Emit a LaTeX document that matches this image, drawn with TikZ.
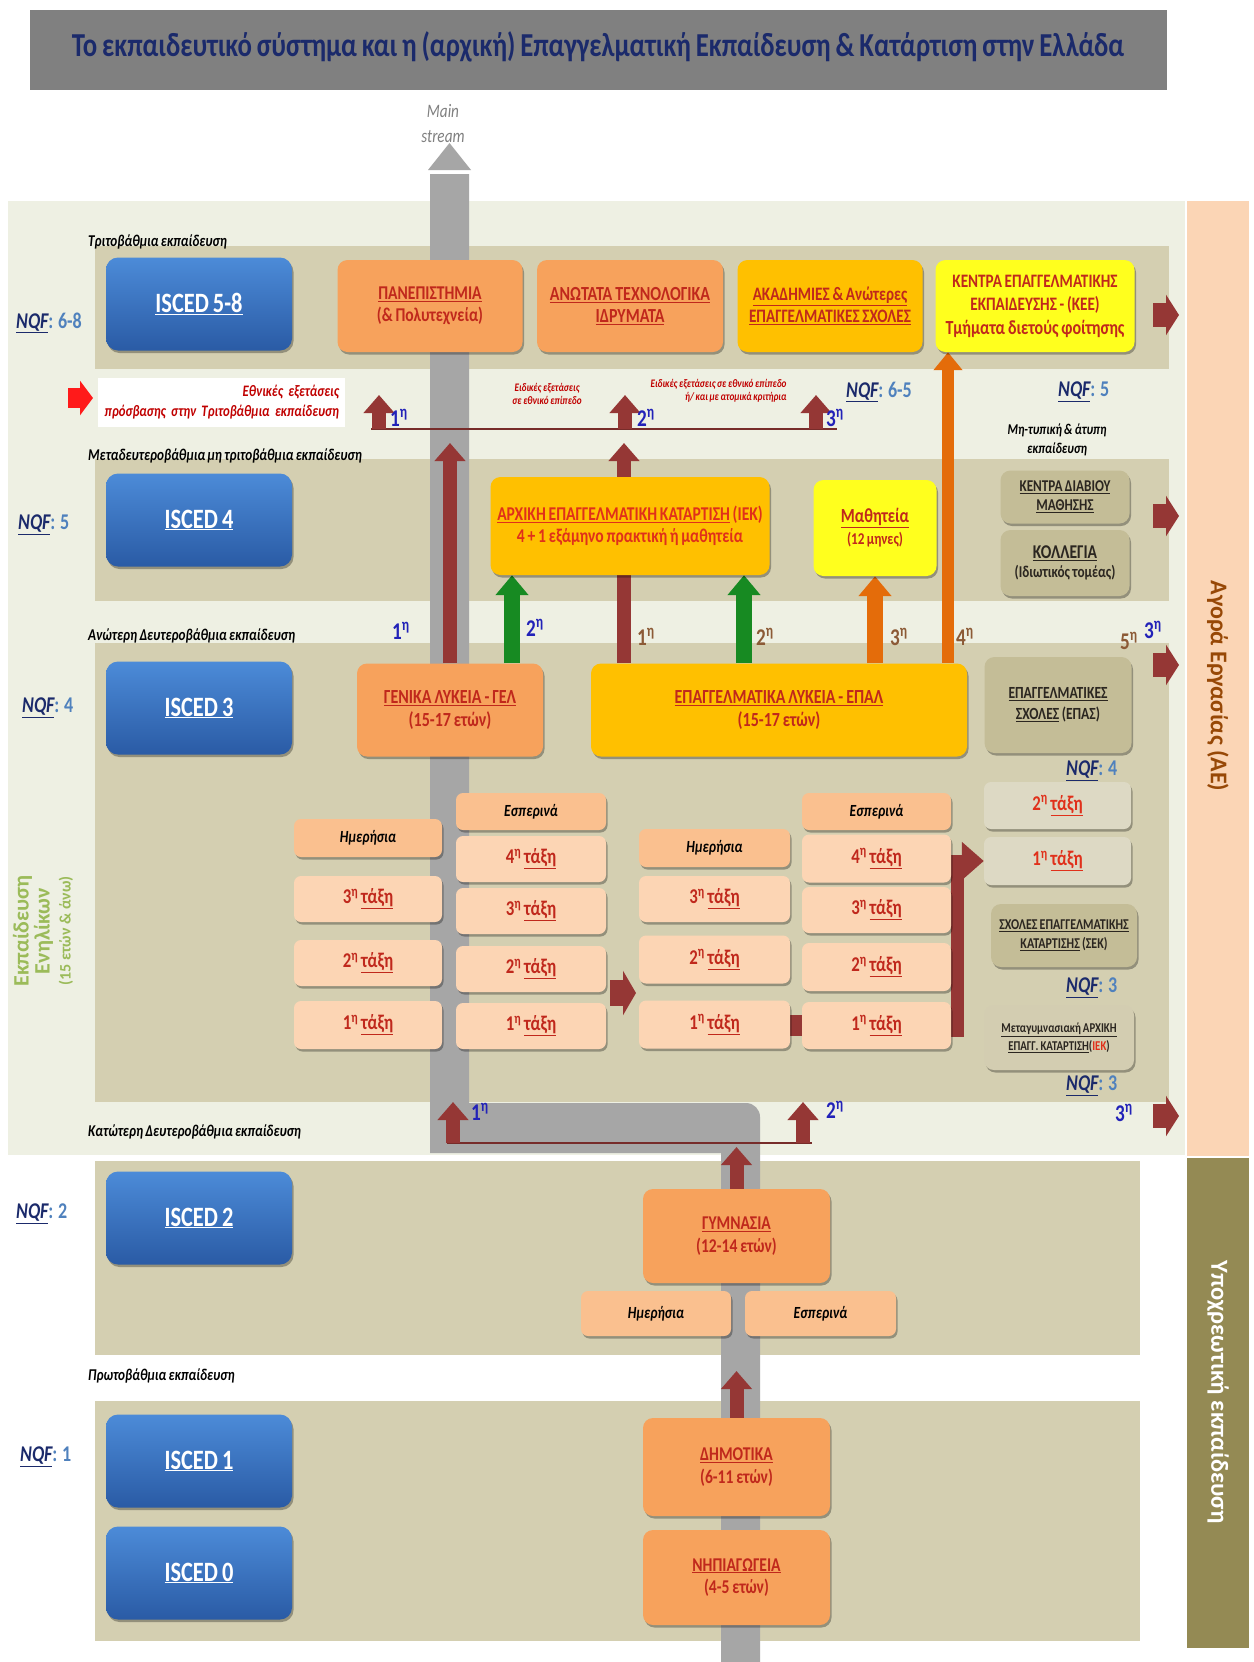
\documentclass[tikz,border=0pt]{standalone}
\usepackage{fontspec}
\setmainfont{Carlito}[FakeStretch=0.8,WordSpace=0.8]
\newfontfamily\plainfont{Carlito}
\usetikzlibrary{arrows.meta,shadows,calc}
\pgfdeclarelayer{bg}
\pgfdeclarelayer{strm}
\pgfdeclarelayer{arw}
\pgfsetlayers{bg,strm,arw,main}
\definecolor{titlegray}{HTML}{808080}
\definecolor{navy}{HTML}{1B2A6B}
\definecolor{panel}{HTML}{EEF0E3}
\definecolor{band}{HTML}{D4CFB1}
\definecolor{aecol}{HTML}{FBD5B5}
\definecolor{olivecol}{HTML}{948A54}
\definecolor{streamgray}{HTML}{A6A6A6}
\definecolor{iscedtop}{HTML}{4C8BD8}
\definecolor{iscedbot}{HTML}{2A5BA5}
\definecolor{orangebox}{HTML}{F7A25C}
\definecolor{goldbox}{HTML}{FFC000}
\definecolor{yellowbox}{HTML}{FFFF1E}
\definecolor{tandark}{HTML}{C4BD97}
\definecolor{tanlight}{HTML}{DDD9C4}
\definecolor{peach}{HTML}{FCD5B4}
\definecolor{peachdark}{HTML}{FAC08F}
\definecolor{boxred}{HTML}{C0281C}
\definecolor{iekred}{HTML}{E0301A}
\definecolor{darktext}{HTML}{2B2620}
\definecolor{darkred}{HTML}{953735}
\definecolor{brightred}{HTML}{FF1A1A}
\definecolor{greenarr}{HTML}{178A22}
\definecolor{orangearr}{HTML}{E46C0A}
\definecolor{nqfblue}{HTML}{4F81BD}
\definecolor{ordblue}{HTML}{2222B8}
\definecolor{ordbrown}{HTML}{8C5A36}
\definecolor{adultgreen}{HTML}{9BBB59}
\definecolor{aetext}{HTML}{974806}
\definecolor{examred}{HTML}{C00000}
\newcommand\nqf[1]{{\color{navy}\textit{\underline{NQF}}}{\color{nqfblue}: #1}}
\newcommand\ordl[1]{#1\textsuperscript{η}}
\newcommand\taxi[1]{#1\textsuperscript{η} \underline{τάξη}}
\begin{document}
\begin{tikzpicture}[x=1pt,y=-1pt,
  shd/.style={drop shadow={shadow xshift=1.5pt,shadow yshift=-2.5pt,opacity=0.3,fill=black}},
  isced/.style={shd,rounded corners=12,minimum width=186,minimum height=93,top color=iscedtop,bottom color=iscedbot,text=white,font=\fontsize{28}{30}\selectfont\bfseries},
  bx/.style={shd,rounded corners=10,align=center,inner sep=2pt,font=\fontsize{19.5}{22.5}\selectfont\bfseries,text=boxred},
  obox/.style={bx,fill=orangebox},
  gbox/.style={bx,fill=goldbox},
  ybox/.style={bx,fill=yellowbox},
  tdbox/.style={bx,fill=tandark,text=darktext,font=\fontsize{16.5}{19}\selectfont\bfseries},
  tlbox/.style={bx,rounded corners=7,fill=tanlight,font=\fontsize{21}{23}\selectfont\bfseries,text=iekred},
  cls/.style={bx,rounded corners=7,fill=peach,font=\fontsize{21}{23}\selectfont\bfseries},
  hdr/.style={bx,rounded corners=7,fill=peachdark,text=black,font=\fontsize{17}{19}\selectfont\bfseries\itshape},
  bandlbl/.style={anchor=west,font=\fontsize{16.5}{18}\selectfont\bfseries\itshape,inner sep=0},
  nqflbl/.style={anchor=west,font=\fontsize{22.5}{24}\selectfont\bfseries,inner sep=0},
  ordb/.style={font=\fontsize{24}{26}\selectfont\bfseries,text=ordblue,inner sep=0},
  ordr/.style={font=\fontsize{24}{26}\selectfont\bfseries,text=ordbrown,inner sep=0},
  fatred/.style={draw=darkred,line width=14,-{Triangle[width=30pt,length=18pt]}},
  fatgreen/.style={draw=greenarr,line width=16,-{Triangle[width=32pt,length=20pt]}},
  fatorange/.style={draw=orangearr,line width=16,-{Triangle[width=32pt,length=20pt]}},
  thinorange/.style={draw=orangearr,line width=12,-{Triangle[width=28pt,length=18pt]}},
  blockright/.style={draw=darkred,line width=24,-{Triangle[width=40pt,length=13pt]}},
  hline/.style={draw=darkred!80!black,line width=1.6},
]
\useasboundingbox (0,0) rectangle (1253,1662);
\begin{pgfonlayer}{bg}
\fill[white] (0,0) rectangle (1253,1662);
\fill[titlegray] (30,10) rectangle (1167,90);
\fill[panel] (8,201) rectangle (1185,1155);
\fill[aecol] (1187,201) rectangle (1249,1156);
\fill[olivecol] (1187,1158) rectangle (1249,1648);
\fill[band] (95,246) rectangle (1169,369);
\fill[band] (95,459) rectangle (1169,601);
\fill[band] (95,643) rectangle (1169,1102);
\fill[band] (95,1161) rectangle (1140,1355);
\fill[band] (95,1401) rectangle (1140,1641);
\end{pgfonlayer}
\begin{pgfonlayer}{strm}
\fill[streamgray] (428,170) -- (471,170) -- (449.5,143) -- cycle;
\fill[streamgray] (430,174) -- (469,174) -- (469,1103) -- (740,1103) [rounded corners=14] -- (760,1103) -- (760,1140) [sharp corners] -- (760,1662) -- (721,1662) -- (721,1153) -- (430,1153) -- cycle;
\end{pgfonlayer}
% title
\node[font=\fontsize{33.5}{36}\selectfont\bfseries,text=navy] (title) at (598,47) {Το εκπαιδευτικό σύστημα και η (αρχική) Επαγγελματική Εκπαίδευση \& Κατάρτιση στην Ελλάδα};
\node[font=\fontsize{19}{25}\selectfont\itshape,text=gray,align=center] (ms) at (443,124) {Main\\stream};
% band labels
\node[bandlbl] (l1) at (88,242) {Τριτοβάθμια εκπαίδευση};
\node[bandlbl] (l2) at (88,456) {Μεταδευτεροβάθμια μη τριτοβάθμια εκπαίδευση};
\node[bandlbl] (l3) at (88,636) {Ανώτερη Δευτεροβάθμια εκπαίδευση};
\node[bandlbl] (l4) at (88,1132) {Κατώτερη Δευτεροβάθμια εκπαίδευση};
\node[bandlbl] (l5) at (88,1376) {Πρωτοβάθμια εκπαίδευση};
% NQF
\node[nqflbl] (nqf68) at (16,323) {\nqf{6-8}};
\node[nqflbl] (nqf65) at (846,392) {\nqf{6-5}};
\node[nqflbl] (nqf5a) at (1058,392) {\nqf{5}};
\node[nqflbl] (nqf5b) at (18,525) {\nqf{5}};
\node[nqflbl] (nqf4a) at (22,708) {\nqf{4}};
\node[nqflbl] (nqf4b) at (1066,771) {\nqf{4}};
\node[nqflbl] (nqf3a) at (1066,988) {\nqf{3}};
\node[nqflbl] (nqf3b) at (1066,1086) {\nqf{3}};
\node[nqflbl] (nqf2) at (16,1214) {\nqf{2}};
\node[nqflbl] (nqf1) at (20,1457) {\nqf{1}};
% ISCED boxes
\node[isced] (i58) at (199,304) {\underline{ISCED 5-8}};
\node[isced] (i4) at (199,520) {\underline{ISCED 4}};
\node[isced] (i3) at (199,708) {\underline{ISCED 3}};
\node[isced] (i2) at (199,1218) {\underline{ISCED 2}};
\node[isced] (i1) at (199,1461) {\underline{ISCED 1}};
\node[isced] (i0) at (199,1573) {\underline{ISCED 0}};
% tertiary
\node[obox,minimum width=185,minimum height=92] (pan) at (430,306) {\underline{ΠΑΝΕΠΙΣΤΗΜΙΑ}\\(\& Πολυτεχνεία)};
\node[obox,minimum width=186,minimum height=92,font=\fontsize{20}{22.5}\selectfont\bfseries] (ate) at (630,306) {\underline{ΑΝΩΤΑΤΑ ΤΕΧΝΟΛΟΓΙΚΑ}\\\underline{ΙΔΡΥΜΑΤΑ}};
\node[gbox,minimum width=185,minimum height=92,font=\fontsize{19}{22.5}\selectfont\bfseries] (akad) at (830,306) {\underline{ΑΚΑΔΗΜΙΕΣ \& Ανώτερες}\\\underline{ΕΠΑΓΓΕΛΜΑΤΙΚΕΣ ΣΧΟΛΕΣ}};
\node[ybox,minimum width=199,minimum height=92,font=\fontsize{19}{23.5}\selectfont\bfseries] (kee) at (1035,306) {ΚΕΝΤΡΑ ΕΠΑΓΓΕΛΜΑΤΙΚΗΣ\\ΕΚΠΑΙΔΕΥΣΗΣ - (ΚΕΕ)\\{\fontsize{20}{23.5}\selectfont Τμήματα διετούς φοίτησης}};
% exam row
\node[fill=white,text width=235,inner xsep=6,minimum height=49,align=right,text=examred,font=\fontsize{16}{20}\selectfont\bfseries\itshape] (exam) at (221.5,402.5) {Εθνικές εξετάσεις\\πρόσβασης στην Τριτοβάθμια εκπαίδευση};
\node[font=\fontsize{11.5}{13}\selectfont\bfseries\itshape,text=examred,align=center] (sp1) at (547,394) {Ειδικές εξετάσεις\\σε εθνικό επίπεδο};
\node[font=\fontsize{11.5}{13}\selectfont\bfseries\itshape,text=examred,align=right,anchor=east] (sp2) at (790,391) {Ειδικές εξετάσεις σε εθνικό επίπεδο\\ή/ και με ατομικά κριτήρια};
\node[font=\fontsize{15}{19}\selectfont\bfseries\itshape,align=center] (mt) at (1057,440) {Μη-τυπική \& άτυπη\\εκπαίδευση};
% ISCED 4 row
\node[gbox,minimum width=279,minimum height=98,text=iekred,font=\fontsize{19.5}{22}\selectfont\bfseries] (iek) at (630,526) {\underline{ΑΡΧΙΚΗ ΕΠΑΓΓΕΛΜΑΤΙΚΗ ΚΑΤΑΡΤΙΣΗ} (ΙΕΚ)\\4 + 1 εξάμηνο πρακτική ή μαθητεία};
\node[ybox,minimum width=123,minimum height=96,font=\fontsize{20}{22}\selectfont\bfseries] (math) at (875,528) {\underline{Μαθητεία}\\{\fontsize{16.5}{19}\selectfont(12 μηνες)}};
\node[tdbox,minimum width=129,minimum height=53] (kdvm) at (1065,497) {\underline{ΚΕΝΤΡΑ ΔΙΑΒΙΟΥ}\\\underline{ΜΑΘΗΣΗΣ}};
\node[tdbox,minimum width=129,minimum height=66] (koll) at (1065,563) {{\fontsize{19.5}{21}\selectfont\underline{ΚΟΛΛΕΓΙΑ}}\\(Ιδιωτικός τομέας)};
% ISCED 3 row
\node[obox,minimum width=186,minimum height=93,font=\fontsize{20}{22.5}\selectfont\bfseries] (gel) at (450,710) {\underline{ΓΕΝΙΚΑ ΛΥΚΕΙΑ - ΓΕΛ}\\(15-17 ετών)};
\node[gbox,minimum width=376,minimum height=93,font=\fontsize{20}{22.5}\selectfont\bfseries] (epal) at (779,710) {\underline{ΕΠΑΓΓΕΛΜΑΤΙΚΑ ΛΥΚΕΙΑ - ΕΠΑΛ}\\(15-17 ετών)};
\node[tdbox,minimum width=147,minimum height=96,font=\fontsize{17}{21}\selectfont\bfseries] (epas) at (1058,705) {\underline{ΕΠΑΓΓΕΛΜΑΤΙΚΕΣ}\\\underline{ΣΧΟΛΕΣ} (ΕΠΑΣ)};
% GEL grid
\node[hdr,minimum width=148,minimum height=38] (gdh) at (368,838) {Ημερήσια};
\node[cls,minimum width=148,minimum height=46] (gd3) at (368,899) {\taxi{3}};
\node[cls,minimum width=148,minimum height=46] (gd2) at (368,963) {\taxi{2}};
\node[cls,minimum width=148,minimum height=48] (gd1) at (368,1025) {\taxi{1}};
\node[hdr,minimum width=150,minimum height=37] (geh) at (531,811.5) {Εσπερινά};
\node[cls,minimum width=150,minimum height=46] (ge4) at (531,859) {\taxi{4}};
\node[cls,minimum width=150,minimum height=46] (ge3) at (531,911) {\taxi{3}};
\node[cls,minimum width=150,minimum height=46] (ge2) at (531,969) {\taxi{2}};
\node[cls,minimum width=150,minimum height=46] (ge1) at (531,1026) {\taxi{1}};
% EPAL grid
\node[hdr,minimum width=151,minimum height=38] (edh) at (714.5,848) {Ημερήσια};
\node[cls,minimum width=151,minimum height=46] (ed3) at (714.5,899) {\taxi{3}};
\node[cls,minimum width=151,minimum height=48] (ed2) at (714.5,959.5) {\taxi{2}};
\node[cls,minimum width=151,minimum height=48] (ed1) at (714.5,1024.5) {\taxi{1}};
\node[hdr,minimum width=149,minimum height=37] (eeh) at (876.5,811.5) {Εσπερινά};
\node[cls,minimum width=149,minimum height=48] (ee4) at (876.5,858.5) {\taxi{4}};
\node[cls,minimum width=149,minimum height=46] (ee3) at (876.5,910) {\taxi{3}};
\node[cls,minimum width=149,minimum height=48] (ee2) at (876.5,967) {\taxi{2}};
\node[cls,minimum width=149,minimum height=47] (ee1) at (876.5,1025.5) {\taxi{1}};
% right column
\node[tlbox,minimum width=147,minimum height=47] (r2) at (1057.5,805.5) {\taxi{2}};
\node[tlbox,minimum width=147,minimum height=48] (r1) at (1057.5,861) {\taxi{1}};
\node[tdbox,minimum width=146,minimum height=63,font=\fontsize{15}{19}\selectfont\bfseries] (sek) at (1064,935.5) {\underline{ΣΧΟΛΕΣ ΕΠΑΓΓΕΛΜΑΤΙΚΗΣ}\\\underline{ΚΑΤΑΡΤΙΣΗΣ} (ΣΕΚ)};
\node[tdbox,fill=tandark!75!white,minimum width=150,minimum height=65,font=\fontsize{13.5}{18}\selectfont\bfseries] (ek) at (1059,1037.5) {\underline{Μεταγυμνασιακή ΑΡΧΙΚΗ}\\\underline{ΕΠΑΓΓ. ΚΑΤΑΡΤΙΣΗ}({\color{iekred}ΙΕΚ})};
% lower secondary & primary
\node[obox,minimum width=187,minimum height=94] (gym) at (736.5,1236) {\underline{ΓΥΜΝΑΣΙΑ}\\(12-14 ετών)};
\node[hdr,minimum width=150,minimum height=45] (gyd) at (656,1313.5) {Ημερήσια};
\node[hdr,minimum width=151,minimum height=45] (gye) at (820.5,1313.5) {Εσπερινά};
\node[obox,minimum width=187,minimum height=98] (dim) at (736.5,1467) {\underline{ΔΗΜΟΤΙΚΑ}\\(6-11 ετών)};
\node[obox,minimum width=187,minimum height=95] (nip) at (736.5,1577.5) {\underline{ΝΗΠΙΑΓΩΓΕΙΑ}\\(4-5 ετών)};
% side texts
\node[rotate=90,align=center,text=adultgreen,font=\plainfont\fontsize{22}{21}\selectfont\bfseries] (adult) at (43,931) {Εκπαίδευση\\Ενηλίκων\\{\fontsize{16}{19}\selectfont(15 ετών \& άνω)}};
\node[rotate=-90,text=aetext,font=\plainfont\fontsize{24}{26}\selectfont\bfseries] (aetxt) at (1218,686) {Αγορά Εργασίας (ΑΕ)};
\node[rotate=-90,text=white,font=\plainfont\fontsize{24.5}{26}\selectfont\bfseries] (ypo) at (1218,1392) {Υποχρεωτική εκπαίδευση};
% ordinal labels
\node[ordb] (o1) at (399,418) {\ordl{1}};
\node[ordb] (o2) at (646,418) {\ordl{2}};
\node[ordb] (o3) at (835,418) {\ordl{3}};
\node[ordb] (o4) at (401,631) {\ordl{1}};
\node[ordb] (o5) at (535,628) {\ordl{2}};
\node[ordr] (o6) at (646,637) {\ordl{1}};
\node[ordr] (o7) at (765,637) {\ordl{2}};
\node[ordr] (o8) at (899,637) {\ordl{3}};
\node[ordr] (o9) at (965,637) {\ordl{4}};
\node[ordr] (o10) at (1129,641) {\ordl{5}};
\node[ordb] (o11) at (1153,630) {\ordl{3}};
\node[ordb] (o12) at (1124,1113) {\ordl{3}};
\node[ordb] (o13) at (480,1112) {\ordl{1}};
\node[ordb] (o14) at (835,1110) {\ordl{2}};
% connectors
\begin{pgfonlayer}{arw}
\coordinate (exstop) at (0,443);
\coordinate (epal1) at (624,663);
\coordinate (epal2) at (744,663);
\coordinate (gel2) at (512,663);
\coordinate (epal3) at (875,663);
\coordinate (epal4) at (948,663);
\draw[fatred] (gel.north) -- (gel.north |- exstop);
\draw[fatred] (epal1) -- (epal1 |- exstop);
\draw[fatgreen] (gel2) -- (gel2 |- iek.south);
\draw[fatgreen] (epal2) -- (epal2 |- iek.south);
\draw[fatorange] (epal3) -- (math.south);
\draw[thinorange] (epal4) -- (epal4 |- kee.south);
% exam line
\coordinate (exL) at (371,429);
\coordinate (exR) at (837,429);
\draw[hline] (exL) -- (exR);
\coordinate (ex1) at (379,429);
\coordinate (ex2) at (625,429);
\coordinate (ex3) at (816,429);
\draw[fatred] (ex1) -- ++(0,-34);
\draw[fatred] (ex2) -- ++(0,-34);
\draw[fatred] (ex3) -- ++(0,-34);
\coordinate (rx) at (68,398);
\draw[draw=brightred,line width=20,-{Triangle[width=34pt,length=13pt]}] (rx) -- ++(25,0);
% lower line
\coordinate (lwL) at (447,1143);
\coordinate (lwR) at (812,1143);
\draw[hline] (lwL) -- (lwR);
\coordinate (lw1) at (453,1143);
\coordinate (lw2) at (803,1143);
\draw[fatred] (lw1) -- ++(0,-41);
\draw[fatred] (lw2) -- ++(0,-41);
\coordinate (lwstop) at (0,1147);
\draw[fatred] (gym.north) -- (gym.north |- lwstop);
\coordinate (prstop) at (0,1371);
\draw[fatred] (dim.north) -- (dim.north |- prstop);
% grid arrows
\coordinate (mid1) at (610,993);
\draw[blockright,line width=26,-{Triangle[width=44pt,length=13pt]}] (mid1) -- ++(26,0);
\fill[darkred] (790,1015) rectangle (802,1036);
\coordinate (elb) at (957,1037);
\draw[draw=darkred,line width=13,-{Triangle[width=37pt,length=22pt]}] (elb) |- (r1.west);
% to labour market
\coordinate (ae1) at (1153,315);
\coordinate (ae2) at (1153,516);
\coordinate (ae3) at (1153,665);
\coordinate (ae4) at (1153,1116);
\draw[blockright] (ae1) -- ++(26,0);
\draw[blockright] (ae2) -- ++(26,0);
\draw[blockright] (ae3) -- ++(26,0);
\draw[blockright] (ae4) -- ++(26,0);
\end{pgfonlayer}
\end{tikzpicture}
\end{document}
